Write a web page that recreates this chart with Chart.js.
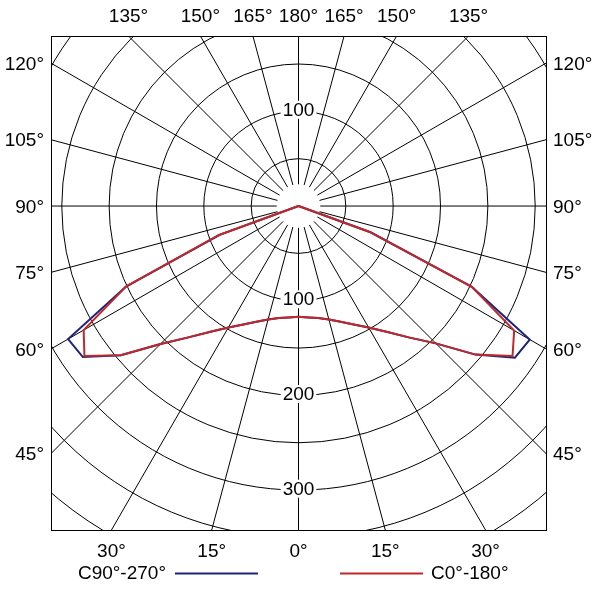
<!DOCTYPE html>
<html>
<head>
<meta charset="utf-8">
<script src="https://cdn.jsdelivr.net/npm/chart.js@4/dist/chart.umd.min.js"></script>
<style>
body { margin: 0; background: #fff; }
canvas { display: block; }
</style>
</head>
<body>
<canvas id="chart-ldc" width="600" height="598"></canvas>
<script>
// gamma angle in degrees, 0 = straight down, negative = left half
const angles = [-90, -70, -65, -60, -55, -50, -45, -40, -35, -30, -25, -20, -15, -10, -5,
	0, 5, 10, 15, 20, 25, 30, 35, 40, 45, 50, 55, 60, 65, 70, 90];

// luminous intensity (cd/klm)
const c90_270 = [0, 88, 201, 281, 278, 245, 206, 181, 162, 148, 138, 130, 124, 120, 118,
	117, 118, 120, 124, 130, 138, 148, 162, 181, 205, 244, 279, 282, 202, 81, 0];
const c0_180 = [0, 90, 201, 262, 276, 245, 206, 181, 162, 148, 138, 130, 124, 120, 118,
	117, 118, 120, 124, 130, 138, 148, 162, 181, 205, 244, 276, 263, 202, 80, 0];

const seriesNames = ['C90°-270°', 'C0°-180°'];
const ringLabels = [100, 200, 300];

const FONT = '19px "Liberation Sans", Arial, sans-serif';

function toPoints(values) {
	return angles.map((g, i) => {
		const rad = g * Math.PI / 180;
		return { x: values[i] * Math.sin(rad), y: -values[i] * Math.cos(rad) };
	});
}

const polarGrid = {
	id: 'polarGrid',
	beforeDatasetsDraw(chart) {
		const { ctx, chartArea: a, scales: { x, y } } = chart;
		const cx = x.getPixelForValue(0);
		const cy = y.getPixelForValue(0);
		const k = x.getPixelForValue(1) - cx;

		ctx.save();
		ctx.beginPath();
		ctx.rect(a.left, a.top, a.right - a.left, a.bottom - a.top);
		ctx.clip();
		ctx.strokeStyle = '#000';
		ctx.lineWidth = 1;

		// circles every 50
		for (let r = 50; r <= 450; r += 50) {
			ctx.beginPath();
			ctx.arc(cx, cy, r * k, 0, Math.PI * 2);
			ctx.stroke();
		}
		// radial lines every 15 degrees
		for (let g = 0; g < 360; g += 15) {
			const rad = g * Math.PI / 180;
			const dx = Math.sin(rad), dy = Math.cos(rad);
			ctx.beginPath();
			ctx.moveTo(cx + dx * 23 * k, cy + dy * 23 * k);
			ctx.lineTo(cx + dx * 700, cy + dy * 700);
			ctx.stroke();
		}

		// ring values, one above and the rest below
		ctx.font = FONT;
		ctx.textAlign = 'center';
		ctx.textBaseline = 'middle';
		const spots = [[ringLabels[0], ringLabels[0]]].concat(ringLabels.map(v => [v, -v]));
		for (const [txt, val] of spots) {
			const py = y.getPixelForValue(val) - 1.5;
			const w = ctx.measureText(String(txt)).width;
			ctx.fillStyle = '#fff';
			ctx.fillRect(cx - w / 2 - 2, py - 9, w + 4, 18);
			ctx.fillStyle = '#000';
			ctx.fillText(String(txt), cx, py + 1);
		}
		ctx.restore();
	},
	afterDatasetsDraw(chart) {
		const { ctx, chartArea: a, scales: { x, y } } = chart;
		const cx = x.getPixelForValue(0);
		const cy = y.getPixelForValue(0);

		ctx.save();
		ctx.strokeStyle = '#000';
		ctx.lineWidth = 1;
		ctx.strokeRect(Math.round(a.left) + 0.5, Math.round(a.top) + 0.5,
			Math.round(a.right - a.left), Math.round(a.bottom - a.top));

		// angle labels where the 15 degree lines meet the frame
		ctx.font = FONT;
		ctx.fillStyle = '#000';
		ctx.textBaseline = 'middle';
		for (let g = -165; g <= 180; g += 15) {
			const rad = g * Math.PI / 180;
			const dx = Math.sin(rad), dy = Math.cos(rad);
			const tx = dx === 0 ? Infinity : ((dx > 0 ? a.right : a.left) - cx) / dx;
			const ty = Math.abs(dy) < 1e-9 ? Infinity : ((dy > 0 ? a.bottom : a.top) - cy) / dy;
			const label = Math.abs(g) + '°';
			if (tx < ty) {
				const py = cy + dy * tx + 1.5;
				if (dx > 0) {
					ctx.textAlign = 'left';
					ctx.fillText(label, a.right + 7, py);
				} else {
					ctx.textAlign = 'right';
					ctx.fillText(label, a.left - 7, py);
				}
			} else {
				const px = cx + dx * ty;
				ctx.textAlign = 'center';
				ctx.fillText(label, px, dy > 0 ? a.bottom + 22 : a.top - 19);
			}
		}

		// legend
		const ly = 573.5;
		const colors = chart.data.datasets.map(d => d.borderColor);
		ctx.textAlign = 'right';
		ctx.fillText(seriesNames[0], 166, ly);
		ctx.textAlign = 'left';
		ctx.fillText(seriesNames[1], 431, ly);
		ctx.lineWidth = 2;
		ctx.strokeStyle = colors[0];
		ctx.beginPath();
		ctx.moveTo(175, ly);
		ctx.lineTo(258, ly);
		ctx.stroke();
		ctx.strokeStyle = colors[1];
		ctx.beginPath();
		ctx.moveTo(340, ly);
		ctx.lineTo(423, ly);
		ctx.stroke();
		ctx.restore();
	}
};

function renderDiagram() {
	const ctx = document.getElementById('chart-ldc').getContext('2d');
	if (!ctx) {
		return;
	}

	new Chart(ctx, {
		type: 'scatter',
		data: {
			datasets: [
				{
					label: seriesNames[0],
					data: toPoints(c90_270),
					borderColor: '#1c237a',
					order: 1,
				},
				{
					label: seriesNames[1],
					data: toPoints(c0_180),
					borderColor: '#c0282a',
					order: 0,
				},
			],
		},
		options: {
			responsive: false,
			animation: false,
			showLine: true,
			elements: {
				point: { radius: 0, hoverRadius: 0 },
				line: { borderWidth: 2, tension: 0, fill: false },
			},
			layout: {
				padding: { left: 51, right: 54, top: 36, bottom: 68 },
			},
			scales: {
				x: { type: 'linear', min: -261.4, max: 261.4, display: false },
				y: { type: 'linear', min: -342, max: 179.5, display: false },
			},
			plugins: {
				legend: { display: false },
				tooltip: { enabled: false },
			},
		},
		plugins: [polarGrid],
	});
}

renderDiagram();
</script>
</body>
</html>
